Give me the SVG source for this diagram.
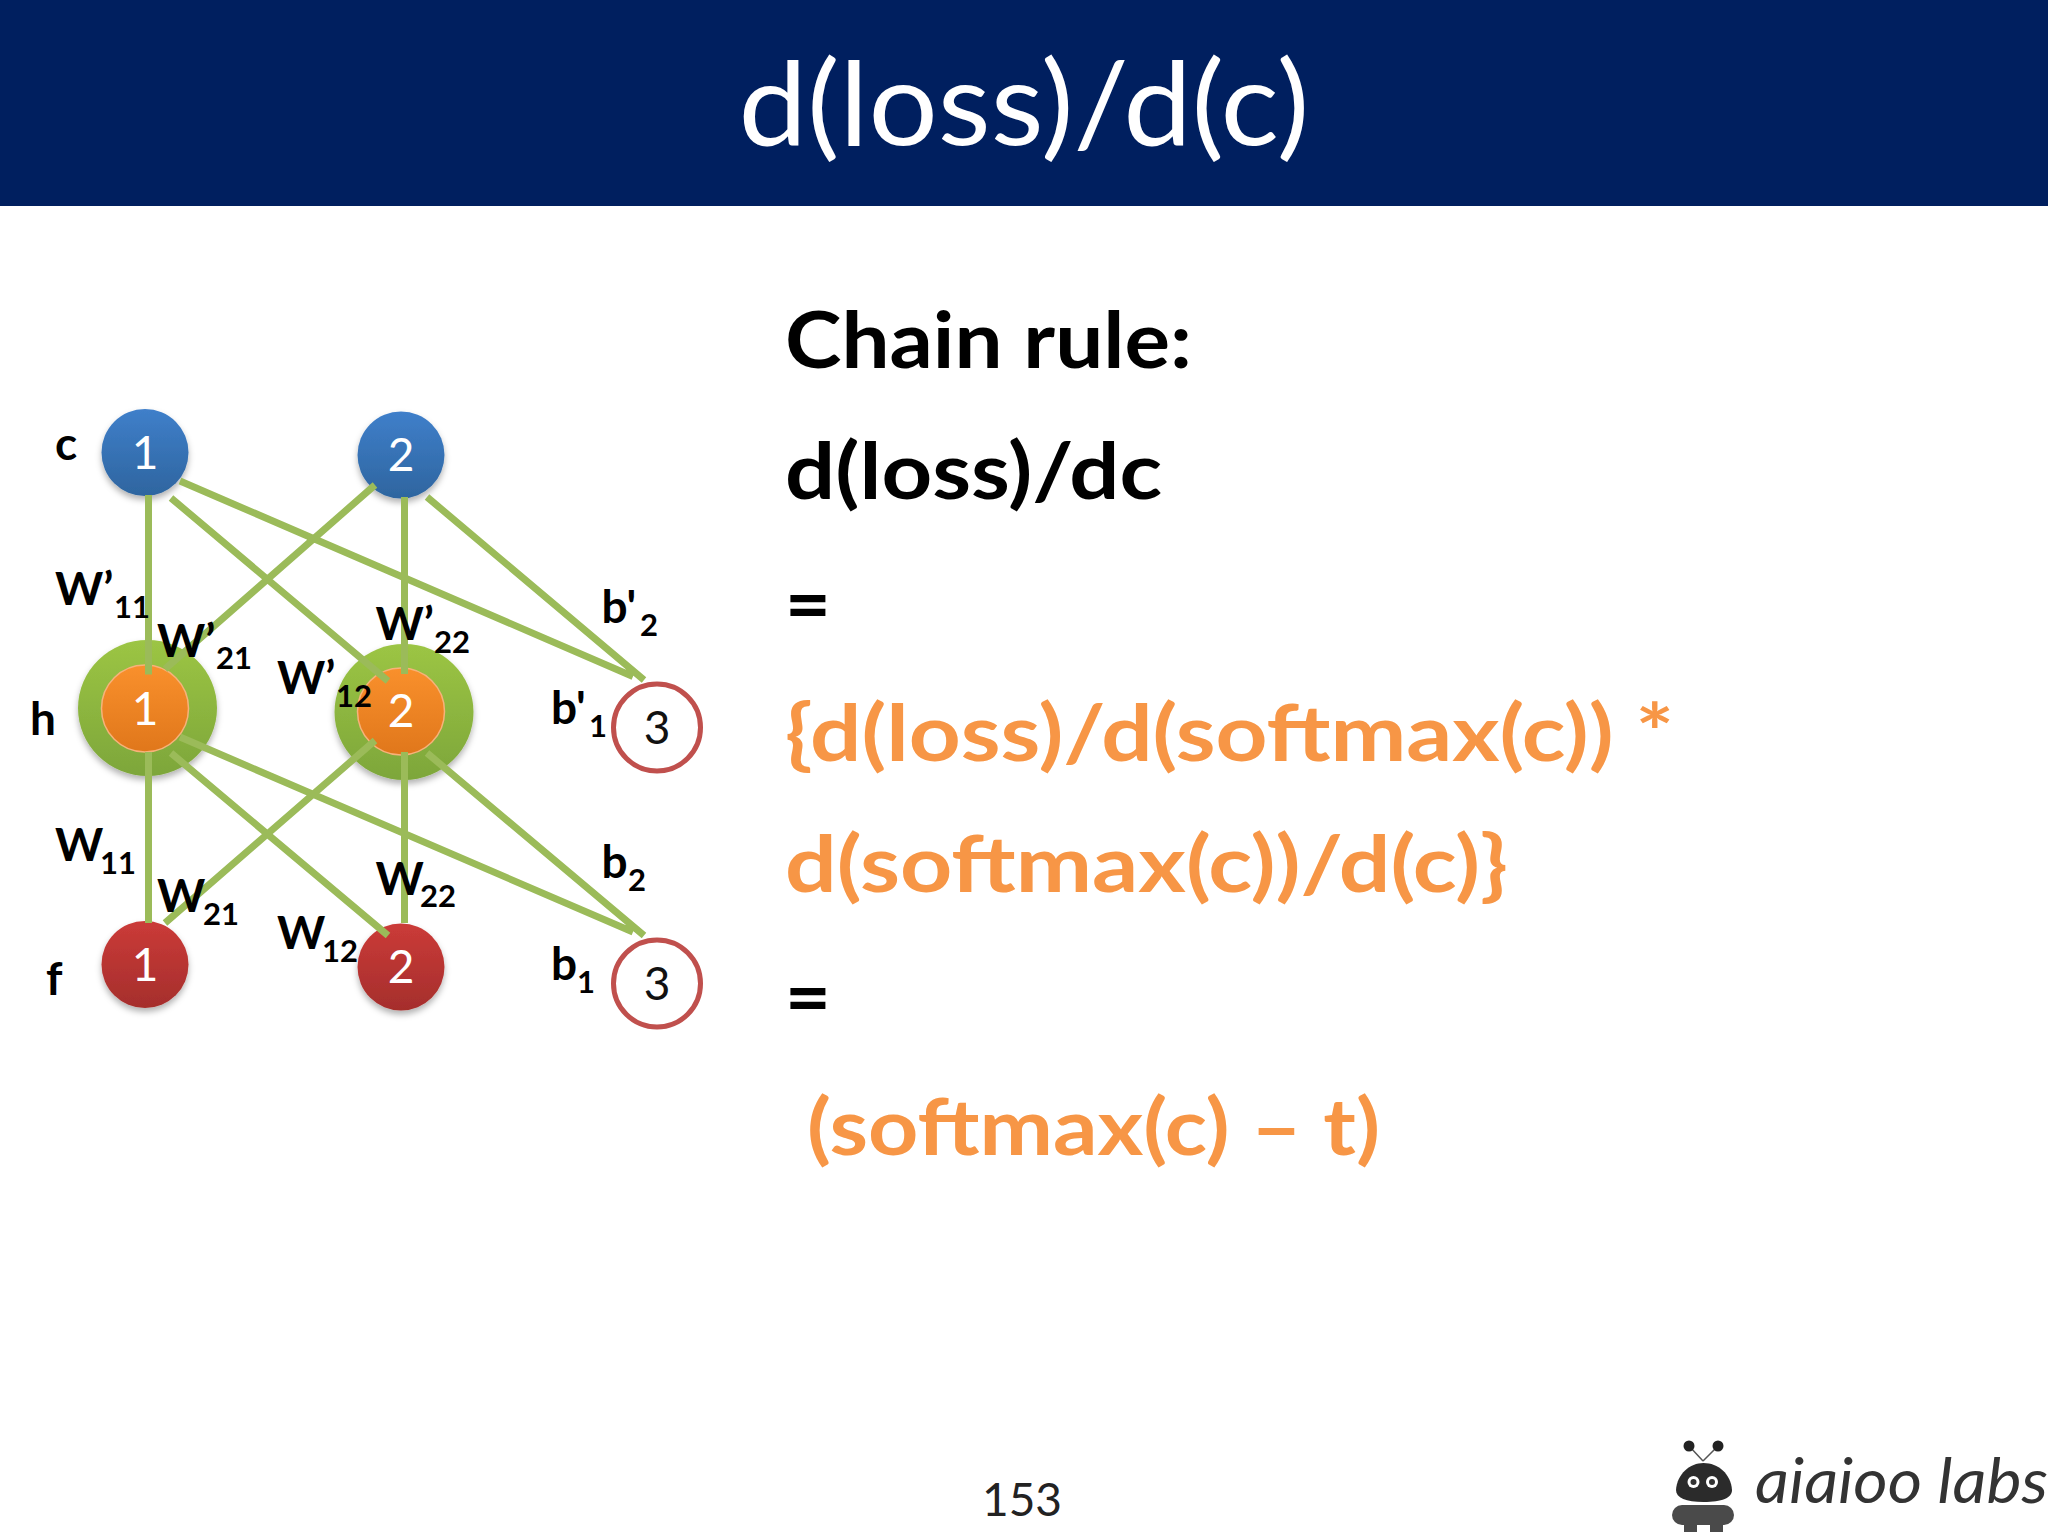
<svg xmlns="http://www.w3.org/2000/svg" width="2048" height="1536" viewBox="0 0 2048 1536">
<style>
text{font-family:Lato,"Liberation Sans",sans-serif}
.h{font-size:79px;font-weight:700}
.o{fill:#f79646}
.l{font-size:46px;font-weight:700;fill:#000}
.s{font-size:31px;font-weight:700;fill:#000}
.n{font-size:46px;fill:#fff;text-anchor:middle}
.e{stroke:#9bbb59;stroke-width:7;fill:none}
.r{fill:#fff;stroke:#c0504d;stroke-width:5}
</style>
<defs>
<linearGradient id="gb" x1="0" y1="0" x2="0" y2="1"><stop offset="0" stop-color="#3f7fca"/><stop offset="1" stop-color="#2e659f"/></linearGradient>
<linearGradient id="go" x1="0" y1="0" x2="0" y2="1"><stop offset="0" stop-color="#f9902c"/><stop offset="1" stop-color="#e0771b"/></linearGradient>
<linearGradient id="gr" x1="0" y1="0" x2="0" y2="1"><stop offset="0" stop-color="#cb3b38"/><stop offset="1" stop-color="#a52e2c"/></linearGradient>
<linearGradient id="gg" x1="0" y1="0" x2="0" y2="1"><stop offset="0" stop-color="#9cc544"/><stop offset="1" stop-color="#7da63a"/></linearGradient>
<filter id="sh" x="-30%" y="-30%" width="160%" height="160%"><feDropShadow dx="0" dy="4" stdDeviation="3" flood-color="#000" flood-opacity="0.3"/></filter>
</defs>
<rect width="2048" height="1536" fill="#fff"/>
<g id="header"><rect width="2048" height="206" fill="#001f5f"/>
<text x="1024" y="145" font-size="116" fill="#fff" text-anchor="middle" textLength="571" lengthAdjust="spacingAndGlyphs">d(loss)/d(c)</text></g>

<g id="halos">
<ellipse cx="147.500" cy="708" rx="69.500" ry="68" fill="url(#gg)" filter="url(#sh)"/>
<ellipse cx="404" cy="712" rx="69.500" ry="68" fill="url(#gg)" filter="url(#sh)"/>
</g>
<g id="nodes">
<g id="c1"><circle cx="145" cy="452.500" r="43.500" fill="url(#gb)" filter="url(#sh)"/><text class="n" x="145" y="469">1</text></g>
<g id="c2"><circle cx="401" cy="455" r="43.500" fill="url(#gb)" filter="url(#sh)"/><text class="n" x="401" y="471">2</text></g>
<g id="h1"><circle cx="145" cy="708.500" r="43.500" fill="url(#go)" stroke="#f7b27a" stroke-width="1.500"/><text class="n" x="145" y="725">1</text></g>
<g id="h2"><circle cx="401" cy="711.500" r="43.500" fill="url(#go)" stroke="#f7b27a" stroke-width="1.500"/><text class="n" x="401" y="727">2</text></g>
<g id="f1"><circle cx="145" cy="964.500" r="43.500" fill="url(#gr)" filter="url(#sh)"/><text class="n" x="145" y="981">1</text></g>
<g id="f2"><circle cx="401" cy="967" r="43.500" fill="url(#gr)" filter="url(#sh)"/><text class="n" x="401" y="983">2</text></g>
<g id="b3a"><circle class="r" cx="657" cy="727.500" r="43.500"/><text class="n" style="fill:#111" x="657" y="744">3</text></g>
<g id="b3b"><circle class="r" cx="657" cy="983.500" r="43.500"/><text class="n" style="fill:#111" x="657" y="1000">3</text></g>
</g>
<g id="connectors">
<path class="e" d="M148.500 495V674.500M180 481L633 676.500M171 498L388 681M375 485L165 669M404.500 497V674M427 497L644 680"/>
<path class="e" d="M148.500 752V923M180 737L633 932M171 753L388 935.500M375 740.500L165 923M404.500 752V923M427 753L644 935.500"/>
</g>
<g id="labels">
<text class="l" x="55" y="460">c</text><text class="l" x="30" y="735">h</text><text class="l" x="46" y="995">f</text>
<text class="l" x="55" y="605">W’</text><text class="s" x="114" y="618">11</text>
<text class="l" x="157" y="657">W’</text><text class="s" x="216" y="669">21</text>
<text class="l" x="375.500" y="640">W’</text><text class="s" x="434" y="653">22</text>
<text class="l" x="277" y="694">W’</text><text class="s" x="336" y="707">12</text>
<text class="l" x="55" y="860.500">W</text><text class="s" x="100" y="873.500">11</text>
<text class="l" x="157" y="911.500">W</text><text class="s" x="203" y="924.500">21</text>
<text class="l" x="375.500" y="895">W</text><text class="s" x="420" y="907">22</text>
<text class="l" x="277" y="949">W</text><text class="s" x="322" y="962">12</text>
<text class="l" x="601.500" y="622.500">b'</text><text class="s" x="640" y="635.500">2</text>
<text class="l" x="551" y="724">b'</text><text class="s" x="589" y="737">1</text>
<text class="l" x="601.500" y="878">b</text><text class="s" x="628" y="891">2</text>
<text class="l" x="551" y="979.500">b</text><text class="s" x="577" y="992.500">1</text>
</g>
<g id="body">
<text class="h" x="785" y="368" textLength="407" lengthAdjust="spacingAndGlyphs">Chain rule:</text>
<text class="h" x="785" y="499" textLength="377" lengthAdjust="spacingAndGlyphs">d(loss)/dc</text>
<text class="h" x="785" y="632">=</text>
<text class="h o" x="785" y="761" textLength="889" lengthAdjust="spacingAndGlyphs">{d(loss)/d(softmax(c)) *</text>
<text class="h o" x="785" y="892" textLength="723" lengthAdjust="spacingAndGlyphs">d(softmax(c))/d(c)}</text>
<text class="h" x="785" y="1025">=</text>
<text class="h o" x="807" y="1155" textLength="573" lengthAdjust="spacingAndGlyphs">(softmax(c) – t)</text>
</g>
<text id="page" x="1022" y="1516" font-size="46" fill="#222" text-anchor="middle">153</text>
<g id="logo">
<path d="M1703 1461L1690 1447M1703 1461L1717 1447" stroke="#555" stroke-width="1.500" fill="none"/>
<circle cx="1689" cy="1446" r="5.500" fill="#222"/><circle cx="1718" cy="1446" r="5.500" fill="#222"/>
<path d="M1676 1490C1677 1474 1690 1463 1703.500 1463C1718 1463 1731 1474 1732 1490C1732 1498 1722 1502 1703.500 1502C1686 1502 1676 1498 1676 1490Z" fill="#2b2b2b"/>
<circle cx="1693.500" cy="1482" r="6" fill="#fff"/><circle cx="1712" cy="1482" r="6" fill="#fff"/>
<circle cx="1693.500" cy="1482" r="3" fill="#333"/><circle cx="1712" cy="1482" r="3" fill="#333"/>
<rect x="1672" y="1505" width="62" height="20" rx="10" fill="#4a4a4a"/>
<path d="M1684 1524H1697V1532H1684ZM1710 1524H1723V1532H1710Z" fill="#4a4a4a"/>
<text x="1755" y="1503" font-size="62" font-style="italic" fill="#333" textLength="293" lengthAdjust="spacingAndGlyphs">aiaioo labs</text>
</g>
</svg>
